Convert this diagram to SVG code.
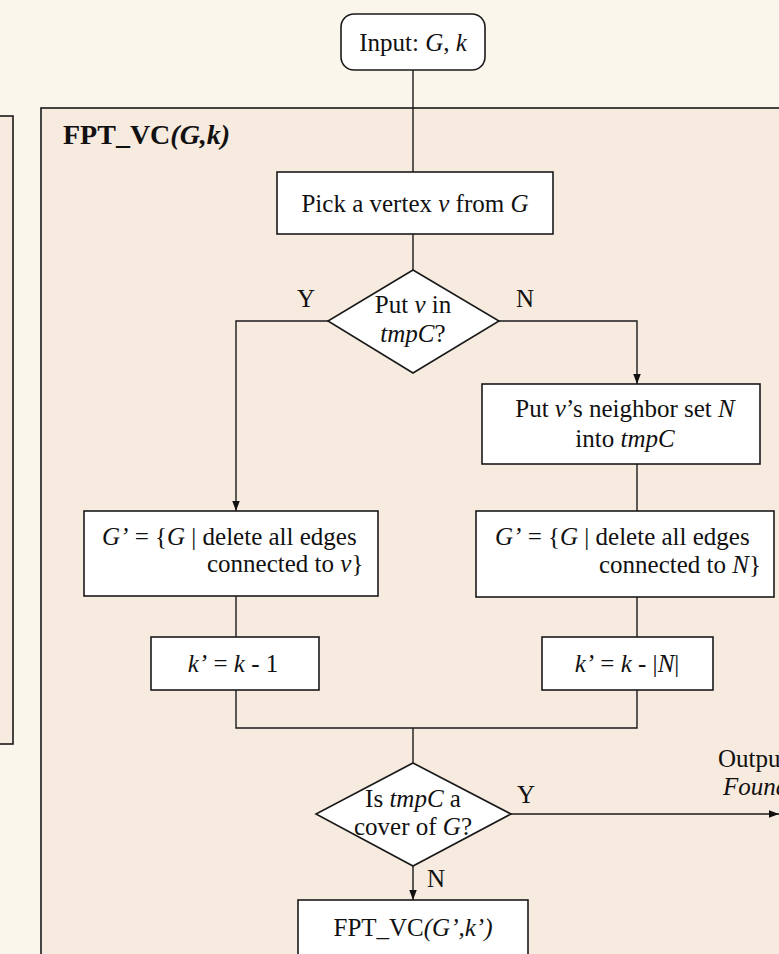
<svg xmlns="http://www.w3.org/2000/svg" width="779" height="954" viewBox="0 0 779 954">
  <style>
    text { font-family: "Liberation Serif", "Times New Roman", serif; font-size: 25px; fill: #111; }
    .c { text-anchor: middle; }
    .i { font-style: italic; }
    .title { font-size: 28px; font-weight: bold; }
    .panel { fill: #f7eadf; stroke: #1a1a1a; stroke-width: 1.6; }
    .box { fill: #ffffff; stroke: #1a1a1a; stroke-width: 1.6; }
    .wire { fill: none; stroke: #1a1a1a; stroke-width: 1.4; }
    .arrow { marker-end: url(#head); }
  </style>
  <defs>
    <marker id="head" markerUnits="userSpaceOnUse" markerWidth="10" markerHeight="13" refX="12" refY="4.5" orient="auto" viewBox="0 0 12 9">
      <path d="M0,0 L12,4.5 L0,9 Z" fill="#111"/>
    </marker>
  </defs>

  <!-- page background -->
  <rect x="0" y="0" width="779" height="954" fill="#faf6eb"/>

  <!-- neighbouring panel on the left edge -->
  <g id="side-panel">
    <rect class="panel" x="-20" y="116" width="33" height="628"/>
  </g>

  <!-- main algorithm panel -->
  <g id="panel-fpt-vc">
    <rect class="panel" x="41" y="108" width="760" height="870"/>
    <text class="title" x="63" y="144">FPT_VC<tspan class="i">(G,k)</tspan></text>
  </g>

  <!-- connectors -->
  <g id="connectors">
    <path class="wire" d="M413,70 V172"/>
    <path class="wire" d="M413,234 V270"/>
    <path class="wire arrow" d="M328,321 H236 V511"/>
    <path class="wire arrow" d="M499,321 H637 V384"/>
    <path class="wire" d="M637,464 V511"/>
    <path class="wire" d="M236,596 V637"/>
    <path class="wire" d="M637,597 V637"/>
    <path class="wire" d="M236,690 V728 H637 V690"/>
    <path class="wire" d="M413,728 V763"/>
    <path class="wire arrow" d="M413,866 V900"/>
    <path class="wire arrow" d="M511,814 H779"/>
    <text x="297" y="307">Y</text>
    <text x="516" y="307">N</text>
    <text x="517" y="803">Y</text>
    <text x="427" y="887">N</text>
    <text x="718" y="767">Output</text>
    <text class="i" x="723" y="795">Found</text>
  </g>

  <g id="input">
    <rect class="box" x="341" y="14" width="144" height="56" rx="13" ry="13"/>
    <text class="c" x="413" y="51">Input: <tspan class="i">G</tspan>, <tspan class="i">k</tspan></text>
  </g>

  <g id="pick-vertex">
    <rect class="box" x="277" y="172" width="276" height="62"/>
    <text class="c" x="415" y="212">Pick a vertex <tspan class="i">v</tspan> from <tspan class="i">G</tspan></text>
  </g>

  <g id="decide-v">
    <polygon class="box" points="413,270 499,321 413,373 328,321"/>
    <text class="c" x="413" y="313">Put <tspan class="i">v</tspan> in</text>
    <text class="c" x="413" y="342"><tspan class="i">tmpC</tspan>?</text>
  </g>

  <g id="add-neighbors">
    <rect class="box" x="482" y="384" width="278" height="80"/>
    <text class="c" x="625" y="417">Put <tspan class="i">v</tspan>’s neighbor set <tspan class="i">N</tspan></text>
    <text class="c" x="625" y="447">into <tspan class="i">tmpC</tspan></text>
  </g>

  <g id="reduce-v">
    <rect class="box" x="84" y="511" width="294" height="85"/>
    <text x="102" y="545"><tspan class="i">G’</tspan> = {<tspan class="i">G</tspan> | delete all edges</text>
    <text x="207" y="572">connected to <tspan class="i">v</tspan>}</text>
  </g>

  <g id="reduce-n">
    <rect class="box" x="476" y="511" width="298" height="86"/>
    <text x="495" y="545"><tspan class="i">G’</tspan> = {<tspan class="i">G</tspan> | delete all edges</text>
    <text x="599" y="573">connected to <tspan class="i">N</tspan>}</text>
  </g>

  <g id="k-minus-one">
    <rect class="box" x="151" y="637" width="168" height="53"/>
    <text class="c" x="233" y="672"><tspan class="i">k’</tspan> = <tspan class="i">k</tspan> - 1</text>
  </g>

  <g id="k-minus-n">
    <rect class="box" x="542" y="637" width="171" height="53"/>
    <text class="c" x="627" y="672"><tspan class="i">k’</tspan> = <tspan class="i">k</tspan> - |<tspan class="i">N</tspan>|</text>
  </g>

  <g id="check-cover">
    <polygon class="box" points="413,763 511,814 413,866 316,814"/>
    <text class="c" x="413" y="807">Is <tspan class="i">tmpC</tspan> a</text>
    <text class="c" x="413" y="835">cover of <tspan class="i">G</tspan>?</text>
  </g>

  <g id="recurse">
    <rect class="box" x="298" y="900" width="230" height="80"/>
    <text class="c" x="413" y="936">FPT_VC<tspan class="i">(G’,k’)</tspan></text>
  </g>
</svg>
